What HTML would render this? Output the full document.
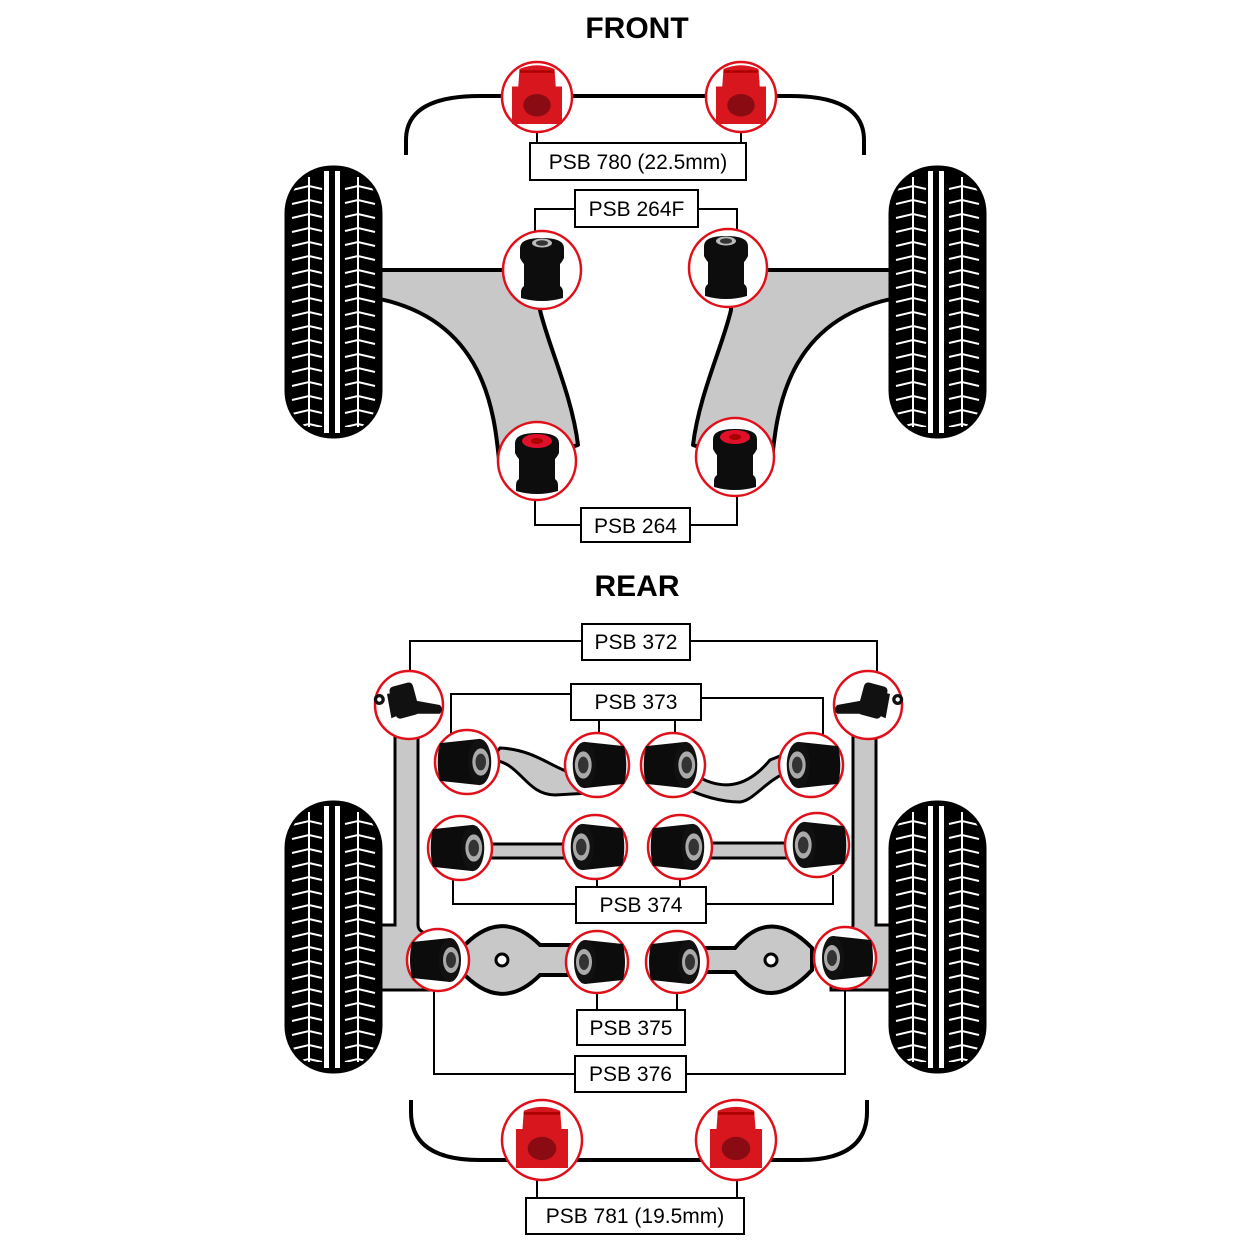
<!DOCTYPE html>
<html><head><meta charset="utf-8"><style>
html,body{margin:0;padding:0;background:#fff;}
svg{display:block;}
text{font-family:"Liberation Sans",Arial,sans-serif;}
</style></head><body>
<svg width="1250" height="1250" viewBox="0 0 1250 1250" xmlns="http://www.w3.org/2000/svg">
<defs>
  <pattern id="tread" patternUnits="userSpaceOnUse" width="95" height="14">
    <g stroke="#fff" stroke-width="2" fill="none">
      <path d="M6,9 L23,5 L36,8"/>
      <path d="M59,8 L72,5 L89,9"/>
    </g>
  </pattern>
  <g id="tire">
    <rect x="0" y="0" width="95" height="270" rx="46" fill="#000"/>
    <rect x="4" y="10" width="87" height="250" fill="url(#tread)"/>
    <rect x="22" y="10" width="2" height="250" fill="#fff"/>
    <rect x="71" y="10" width="2" height="250" fill="#fff"/>
    <rect x="38" y="4" width="5" height="262" fill="#fff"/>
    <rect x="49" y="4" width="5" height="262" fill="#fff"/>
    <rect x="0" y="0" width="95" height="270" rx="46" fill="none" stroke="#000" stroke-width="3"/>
  </g>
  <g id="redb">
    <path d="M-14,-24 Q0,-30 14,-24 L15,-10 L20,-10 L20,20 L-20,20 L-20,-10 L-15,-10 Z" fill="#d8161e"/>
    <path d="M-14,-22 L14,-22" stroke="#a00" stroke-width="2"/>
    <ellipse cx="0" cy="5" rx="11" ry="9" fill="#8a0c12"/>
  </g>
  <g id="blkv">
    <path d="M-22,-22 Q-22,-32 0,-32 Q22,-32 22,-22 L22,-12 Q20,-8 18,-6 L18,16 Q21,18 21,22 L21,28 Q0,34 -21,28 L-21,22 Q-21,18 -18,16 L-18,-6 Q-20,-8 -22,-12 Z" fill="#0d0d0d"/>
    <ellipse cx="0" cy="-27" rx="10" ry="4.5" fill="#bbb"/>
    <ellipse cx="0" cy="-27" rx="6" ry="2.8" fill="#333"/>
  </g>
  <g id="blkr">
    <path d="M-22,-20 Q-22,-30 0,-30 Q22,-30 22,-20 L22,-10 Q20,-6 18,-4 L18,16 Q21,18 21,22 L21,28 Q0,34 -21,28 L-21,22 Q-21,18 -18,16 L-18,-4 Q-20,-6 -22,-10 Z" fill="#0d0d0d"/>
    <ellipse cx="0" cy="-22" rx="15" ry="7" fill="#e0102a"/>
    <ellipse cx="0" cy="-22" rx="6" ry="3" fill="#a00"/>
  </g>
  <g id="sideR">
    <path d="M-24,-18 Q-28,0 -24,18 L14,22 L14,-22 Z" fill="#0c0c0c"/>
    <ellipse cx="14" cy="0" rx="11" ry="22" fill="#111"/>
    <ellipse cx="15" cy="0" rx="8" ry="13" fill="#aaa"/>
    <ellipse cx="15" cy="0" rx="5" ry="8" fill="#333"/>
  </g>
  <g id="sideL">
    <path d="M24,-18 Q28,0 24,18 L-14,22 L-14,-22 Z" fill="#0c0c0c"/>
    <ellipse cx="-14" cy="0" rx="11" ry="22" fill="#111"/>
    <ellipse cx="-15" cy="0" rx="8" ry="13" fill="#aaa"/>
    <ellipse cx="-15" cy="0" rx="5" ry="8" fill="#333"/>
  </g>
  <g id="mount">
    <path d="M-20,-10 L-4,-14 L-2,6 L-16,12 Z" fill="#111"/>
    <rect x="-14" y="-20" width="22" height="30" rx="4" fill="#111" transform="rotate(-15)"/>
    <path d="M6,-4 L28,0 Q32,4 28,8 L4,8 Z" fill="#111"/>
    <circle cx="-27" cy="-5" r="5" fill="#111"/>
    <circle cx="-27" cy="-5" r="2" fill="#fff"/>
  </g>
</defs>

<text x="637" y="38" font-size="30" font-weight="bold" text-anchor="middle">FRONT</text>
<text x="637" y="596" font-size="30" font-weight="bold" text-anchor="middle">REAR</text>

<g fill="none" stroke="#000" stroke-width="2">
  <path d="M537,130 V145 M741,130 V145"/>
  <path d="M575,209 H535 V233 M698,209 H737 V231"/>
  <path d="M535,500 V525 H582 M737,497 V525 H690"/>
  <path d="M582,641 H410 V672 M690,641 H877 V672"/>
  <path d="M571,694 H451 V735 M599,720 V733 M675,720 V733 M701,698 H823 V735"/>
  <path d="M453,877 V904 H576 M597,878 V887 M680,878 V887 M833,875 V904 H706"/>
  <path d="M597,993 V1010 M677,993 V1010"/>
  <path d="M434,990 V1074 H575 M845,988 V1074 H686"/>
  <path d="M537,1176 V1198 M737,1176 V1198"/>
</g>

<path d="M406,155 V140 Q406,96 480,96 H790 Q864,96 864,140 V155" fill="none" stroke="#000" stroke-width="4"/>

<path d="M375,270 H540 L540,310 C548,345 572,395 578,445 L500,470 C495,420 490,320 375,298 Z" fill="#c8c8c8" stroke="#000" stroke-width="4" stroke-linejoin="round"/>
<path d="M896,270 H731 L731,310 C723,345 699,395 693,445 L771,470 C776,420 781,320 896,298 Z" fill="#c8c8c8" stroke="#000" stroke-width="4" stroke-linejoin="round"/>

<path d="M380,925 H395 V735 H418 V925 Q418,935 440,935 V990 H380 Z" fill="#c8c8c8" stroke="#000" stroke-width="3"/>
<path d="M891,925 H876 V735 H853 V925 Q853,935 831,935 V990 H891 Z" fill="#c8c8c8" stroke="#000" stroke-width="3"/>

<path d="M490,760 C520,760 525,795 555,795 L590,793 L595,775 C560,780 545,750 500,748 Z" fill="#c8c8c8" stroke="#000" stroke-width="3"/>
<path d="M695,775 C720,790 745,790 770,760 L790,752 L792,770 C765,780 755,800 740,802 C720,802 700,795 690,790 Z" fill="#c8c8c8" stroke="#000" stroke-width="3"/>
<rect x="480" y="844" width="100" height="14" fill="#c8c8c8" stroke="#000" stroke-width="3"/>
<rect x="700" y="843" width="100" height="15" fill="#c8c8c8" stroke="#000" stroke-width="3"/>
<path d="M460,950 Q500,905 540,945 H585 V975 H540 Q500,1015 460,970 Z" fill="#c8c8c8" stroke="#000" stroke-width="4"/>
<circle cx="502" cy="960" r="6" fill="#fff" stroke="#000" stroke-width="3"/>
<path d="M690,948 H735 Q770,905 812,948 V970 Q770,1015 735,972 H690 Z" fill="#c8c8c8" stroke="#000" stroke-width="4"/>
<circle cx="771" cy="960" r="6" fill="#fff" stroke="#000" stroke-width="3"/>

<path d="M411,1100 V1112 Q411,1160 480,1160 H800 Q867,1160 867,1112 V1100" fill="none" stroke="#000" stroke-width="4"/>

<use href="#tire" x="286" y="167"/>
<use href="#tire" x="890" y="167"/>
<use href="#tire" x="286" y="802"/>
<use href="#tire" x="890" y="802"/>

<g fill="#fff" stroke="#e0101a" stroke-width="2.5">
  <circle cx="537" cy="97" r="35"/><circle cx="741" cy="97" r="35"/>
  <circle cx="542" cy="270" r="39"/><circle cx="728" cy="268" r="39"/>
  <circle cx="537" cy="461" r="39"/><circle cx="735" cy="457" r="39"/>
  <circle cx="409" cy="705" r="34"/><circle cx="868" cy="705" r="34"/>
  <circle cx="467" cy="762" r="32"/><circle cx="597" cy="765" r="32"/>
  <circle cx="673" cy="765" r="32"/><circle cx="811" cy="765" r="32"/>
  <circle cx="460" cy="848" r="32"/><circle cx="595" cy="847" r="32"/>
  <circle cx="680" cy="847" r="32"/><circle cx="817" cy="845" r="32"/>
  <circle cx="438" cy="960" r="31"/><circle cx="597" cy="962" r="31"/>
  <circle cx="677" cy="962" r="31"/><circle cx="845" cy="958" r="31"/>
  <circle cx="542" cy="1140" r="40"/><circle cx="736" cy="1140" r="40"/>
</g>
<g transform="translate(537,99) scale(1.25)"><use href="#redb"/></g>
<g transform="translate(741,99) scale(1.25)"><use href="#redb"/></g>
<use href="#blkv" x="542" y="270"/><use href="#blkv" x="726" y="268"/>
<use href="#blkr" x="537" y="463"/><use href="#blkr" x="735" y="459"/>
<g transform="translate(409,705) scale(1.1)"><use href="#mount"/></g>
<g transform="translate(868,705) scale(-1.1,1.1)"><use href="#mount"/></g>
<g transform="translate(465,762) scale(1.05)"><use href="#sideR"/></g>
<g transform="translate(599,765) scale(1.05)"><use href="#sideL"/></g>
<g transform="translate(671,765) scale(1.05)"><use href="#sideR"/></g>
<g transform="translate(813,765) scale(1.05)"><use href="#sideL"/></g>
<g transform="translate(458,848) scale(1.05)"><use href="#sideR"/></g>
<g transform="translate(597,847) scale(1.05)"><use href="#sideL"/></g>
<g transform="translate(678,847) scale(1.05)"><use href="#sideR"/></g>
<g transform="translate(819,845) scale(1.05)"><use href="#sideL"/></g>
<g transform="translate(436,960) scale(1.0)"><use href="#sideR"/></g>
<g transform="translate(599,962) scale(1.0)"><use href="#sideL"/></g>
<g transform="translate(675,962) scale(1.0)"><use href="#sideR"/></g>
<g transform="translate(847,958) scale(1.0)"><use href="#sideL"/></g>
<g transform="translate(542,1142) scale(1.3)"><use href="#redb"/></g>
<g transform="translate(736,1142) scale(1.3)"><use href="#redb"/></g>

<g fill="#fff" stroke="#000" stroke-width="2">
  <rect x="530" y="143" width="216" height="37"/>
  <rect x="575" y="190" width="123" height="37"/>
  <rect x="581" y="508" width="109" height="34"/>
  <rect x="582" y="624" width="108" height="36"/>
  <rect x="571" y="684" width="130" height="36"/>
  <rect x="576" y="887" width="130" height="36"/>
  <rect x="577" y="1010" width="108" height="35"/>
  <rect x="575" y="1056" width="111" height="36"/>
  <rect x="526" y="1198" width="218" height="36"/>
</g>
<g font-size="21" text-anchor="middle" fill="#000">
  <text x="638" y="169">PSB 780 (22.5mm)</text>
  <text x="636.5" y="216">PSB 264F</text>
  <text x="635.5" y="533">PSB 264</text>
  <text x="636" y="649">PSB 372</text>
  <text x="636" y="709">PSB 373</text>
  <text x="641" y="912">PSB 374</text>
  <text x="631" y="1035">PSB 375</text>
  <text x="630.5" y="1081">PSB 376</text>
  <text x="635" y="1223">PSB 781 (19.5mm)</text>
</g>
</svg>
</body></html>
